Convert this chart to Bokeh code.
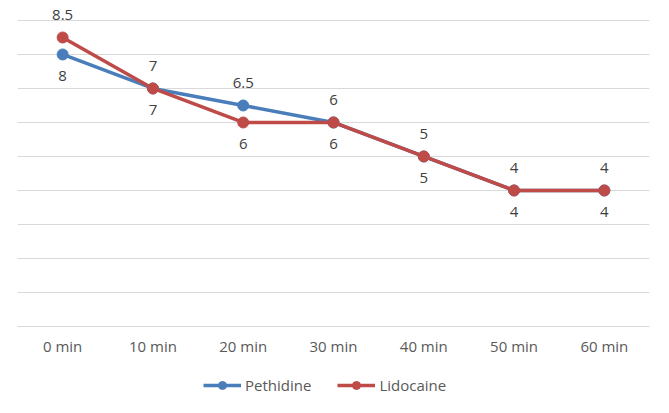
from bokeh.plotting import figure
from bokeh.models import ColumnDataSource, FactorRange, Range1d, FixedTicker, Legend, LegendItem
from bokeh.core.properties import value
from bokeh.embed import file_html
from bokeh.resources import INLINE

categories = ["0 min", "10 min", "20 min", "30 min", "40 min", "50 min", "60 min"]
pethidine = [8, 7, 6.5, 6, 5, 4, 4]
lidocaine = [8.5, 7, 6, 6, 5, 4, 4]
y_ticks = [0, 1, 2, 3, 4, 5, 6, 7, 8, 9]

BLUE = "#4A7EBB"
RED = "#BE4B48"
FONT = "Open Sans"
TXT = "#404040"

p = figure(frame_width=632, frame_height=405, x_range=FactorRange(*categories),
           y_range=Range1d(-2.325, 9.588), output_backend="svg", toolbar_location=None,
           y_axis_location=None, min_border_left=17, min_border_right=14,
           min_border_top=0, min_border_bottom=0)
p.outline_line_color = None
p.xgrid.grid_line_color = None
p.ygrid.ticker = FixedTicker(ticks=y_ticks)
p.ygrid.grid_line_color = "#D9D9D9"
p.ygrid.grid_line_width = 1

p.xaxis.fixed_location = 0
p.xaxis.axis_line_color = None
p.xaxis.major_tick_line_color = None
p.xaxis.minor_tick_line_color = None
p.xaxis.major_label_text_font = FONT
p.xaxis.major_label_text_font_size = "15px"
p.xaxis.major_label_text_color = "#595959"
p.xaxis.major_label_standoff = 4

# label placement: higher value above, lower below; ties: Lidocaine above
pet_off, lid_off = [], []
for a, b in zip(pethidine, lidocaine):
    if a > b:
        pet_off.append(-22); lid_off.append(22)
    else:
        pet_off.append(22); lid_off.append(-22)

src_p = ColumnDataSource(dict(x=categories, y=pethidine, t=[f"{v:g}" for v in pethidine], off=pet_off))
src_l = ColumnDataSource(dict(x=categories, y=lidocaine, t=[f"{v:g}" for v in lidocaine], off=lid_off))

lp = p.line("x", "y", source=src_p, line_color=BLUE, line_width=3.5)
sp = p.scatter("x", "y", source=src_p, size=11, fill_color=BLUE, line_color=BLUE)
ll = p.line("x", "y", source=src_l, line_color=RED, line_width=3.5)
sl = p.scatter("x", "y", source=src_l, size=11, fill_color=RED, line_color=RED)

for src in (src_p, src_l):
    p.text("x", "y", text="t", source=src, y_offset="off", text_align="center",
           text_baseline="middle", text_font=value(FONT), text_font_size="15px",
           text_color=TXT)

legend = Legend(items=[LegendItem(label="Pethidine", renderers=[lp, sp]),
                       LegendItem(label="Lidocaine", renderers=[ll, sl])],
                orientation="horizontal", location=(186, 10),
                border_line_color=None, background_fill_alpha=0,
                glyph_width=38, glyph_height=20,
                label_text_font=FONT, label_text_font_size="15px",
                label_text_color="#595959", spacing=26, label_standoff=4,
                padding=4, margin=0)
p.add_layout(legend, "center")

open("out.html", "w").write(file_html(p, INLINE))
